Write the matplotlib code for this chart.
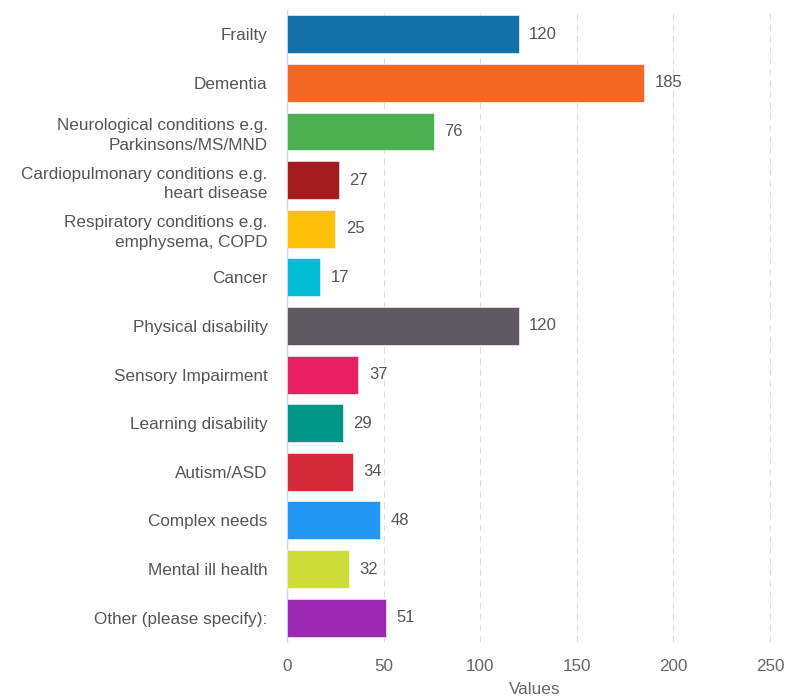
import matplotlib.pyplot as plt

categories = [
    'Frailty',
    'Dementia',
    'Neurological conditions e.g.\nParkinsons/MS/MND',
    'Cardiopulmonary conditions e.g.\nheart disease',
    'Respiratory conditions e.g.\nemphysema, COPD',
    'Cancer',
    'Physical disability',
    'Sensory Impairment',
    'Learning disability',
    'Autism/ASD',
    'Complex needs',
    'Mental ill health',
    'Other (please specify):',
]
values = [120, 185, 76, 27, 25, 17, 120, 37, 29, 34, 48, 32, 51]
colors = ['#1470a9', '#f36824', '#4cb050', '#a41c1e', '#ffc107', '#00bcd5',
          '#5e5960', '#e91e63', '#009587', '#d42a3a', '#2196f3', '#cddc39',
          '#9c27b0']
x_ticks = [0, 50, 100, 150, 200, 250]

plt.rcParams['font.family'] = ['Liberation Sans', 'DejaVu Sans']
text_color = '#555555'

fig = plt.figure(figsize=(7.87, 7.0), dpi=100)
ax = fig.add_axes([0.3647, 0.0829, 0.6283, 0.9029])

pos = list(range(len(categories)))
ax.barh(pos, values, height=0.78, color=colors, edgecolor='white',
        linewidth=0.4, zorder=3)
for p, v in zip(pos, values):
    ax.annotate(str(v), (v, p), xytext=(7.5, 0), textcoords='offset points',
                va='center', ha='left', fontsize=12, color=text_color)

ax.set_ylim(len(categories) - 0.5, -0.5)
ax.set_xlim(0, 256)
ax.set_yticks(pos)
ax.set_yticklabels(categories, fontsize=12.3, color=text_color, linespacing=1.4)
ax.set_xticks(x_ticks)
ax.set_xticklabels([str(t) for t in x_ticks], fontsize=12.3, color='#666666')
ax.tick_params(axis='both', length=0)
ax.tick_params(axis='y', pad=14)
ax.tick_params(axis='x', pad=12)
ax.set_xlabel('Values', fontsize=12.3, color='#666666', labelpad=6)

for s in ['top', 'right', 'bottom']:
    ax.spines[s].set_visible(False)
ax.spines['left'].set_color('#ccd6eb')
ax.spines['left'].set_linewidth(1)

ax.grid(axis='x', color='#dddddd', linestyle=(0, (6, 4)), linewidth=0.8, zorder=0)
ax.set_axisbelow(True)

fig.savefig('out.png', dpi=100)
